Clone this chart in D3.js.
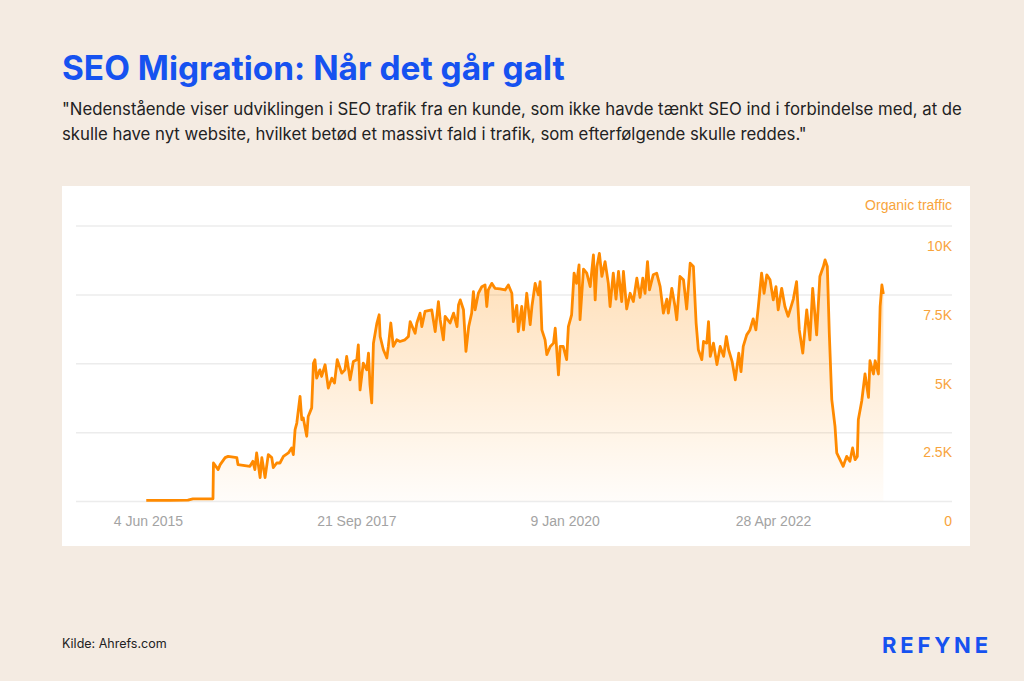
<!DOCTYPE html>
<html><head><meta charset="utf-8">
<script src="https://cdn.jsdelivr.net/npm/d3@7"></script>
<style>
html,body{margin:0;padding:0;background:#f4ebe2;}
svg{display:block;}
</style></head>
<body>
<svg id="c" width="1024" height="681"></svg>
<script>
const titleText = "SEO Migration: Når det går galt";
const subtitleLines = [
  "\"Nedenstående viser udviklingen i SEO trafik fra en kunde, som ikke havde tænkt SEO ind i forbindelse med, at de",
  "skulle have nyt website, hvilket betød et massivt fald i trafik, som efterfølgende skulle reddes.\""
];
const sourceText = "Kilde: Ahrefs.com";
const brandText = "REFYNE";
const seriesName = "Organic traffic";
const xTickDates = ["2015-06-04", "2017-09-21", "2020-01-09", "2022-04-28"];
const xTickLabels = ["4 Jun 2015", "21 Sep 2017", "9 Jan 2020", "28 Apr 2022"];
const yTickValues = [0, 2500, 5000, 7500, 10000];
const yTickLabels = ["0", "2.5K", "5K", "7.5K", "10K"];

const traffic = [
["2015-05-28",20],["2015-07-15",20],["2015-09-01",25],["2015-11-12",30],["2015-12-02",80],["2016-02-21",80],
["2016-02-23",1380],["2016-03-13",1140],["2016-03-21",1320],["2016-04-10",1575],["2016-04-22",1620],["2016-05-27",1575],["2016-06-01",1320],["2016-07-19",1260],["2016-07-31",1440],["2016-08-08",1140],["2016-08-15",1745],["2016-08-29",850],["2016-09-05",1575],["2016-09-18",850],["2016-10-01",1685],["2016-10-15",1575],["2016-10-21",1215],["2016-11-04",1380],["2016-11-17",1380],["2016-12-01",1620],["2016-12-21",1745],
["2017-01-03",1925],["2017-01-10",1685],["2017-01-17",2590],["2017-01-24",2830],["2017-02-06",3800],["2017-02-13",2950],["2017-02-19",3015],["2017-03-05",2350],["2017-03-11",3070],["2017-03-25",3380],["2017-04-01",5000],["2017-04-07",5130],["2017-04-14",4460],["2017-04-27",4760],["2017-05-04",4520],["2017-05-18",4945],["2017-05-31",4100],["2017-06-14",4460],["2017-06-25",4280],["2017-07-06",5130],["2017-07-24",4640],["2017-08-06",4760],["2017-08-13",5245],["2017-08-27",4400],["2017-09-09",5065],["2017-09-23",5130],["2017-09-29",5670],["2017-10-06",4030],["2017-10-19",5000],["2017-11-02",4760],["2017-11-09",5370],["2017-11-15",4220],["2017-11-22",3560],["2017-11-29",5730],["2017-12-13",6460],["2017-12-22",6760],["2017-12-26",5970],
["2018-01-08",5490],["2018-01-22",5190],["2018-01-28",5610],["2018-02-07",6460],["2018-02-17",5610],["2018-03-03",5850],["2018-03-16",5790],["2018-04-05",5850],["2018-04-19",5970],["2018-04-26",6510],["2018-05-16",6090],["2018-05-23",6460],["2018-06-05",6820],["2018-06-12",6330],["2018-06-25",6880],["2018-07-22",6940],["2018-08-05",6150],["2018-08-18",7240],["2018-08-25",6580],["2018-09-07",5850],["2018-09-14",6700],["2018-10-04",6460],["2018-10-18",6820],["2018-11-01",6330],["2018-11-07",7120],["2018-11-14",7300],["2018-11-27",6940],["2018-12-07",5430],["2018-12-18",6330],["2018-12-30",6820],
["2019-01-06",7600],["2019-01-13",6940],["2019-01-26",7540],["2019-02-09",7780],["2019-02-22",7840],["2019-03-01",7060],["2019-03-07",7660],["2019-03-21",7900],["2019-04-03",7720],["2019-04-23",7700],["2019-05-14",7660],["2019-05-27",7840],["2019-06-10",7540],["2019-06-16",6510],["2019-06-30",7100],["2019-07-06",6150],["2019-07-20",7060],["2019-07-27",6210],["2019-08-09",7540],["2019-08-23",6400],["2019-08-30",7060],["2019-09-12",7900],["2019-09-25",7480],["2019-10-02",7960],["2019-10-09",6210],["2019-10-22",5850],["2019-10-29",5310],["2019-11-12",5610],["2019-11-25",5730],["2019-12-02",6270],["2019-12-15",4580],["2019-12-22",5610],
["2020-01-03",5610],["2020-01-17",5130],["2020-01-24",6330],["2020-02-06",6760],["2020-02-16",8270],["2020-02-26",7900],["2020-03-07",8570],["2020-03-11",6580],["2020-03-25",8420],["2020-04-07",8270],["2020-04-21",7780],["2020-05-04",8930],["2020-05-11",7300],["2020-05-18",8510],["2020-05-28",8990],["2020-06-07",8150],["2020-06-20",8690],["2020-07-03",7900],["2020-07-10",7060],["2020-07-23",8270],["2020-08-03",7330],["2020-08-13",8330],["2020-08-26",7240],["2020-09-02",8330],["2020-09-15",6970],["2020-09-29",7540],["2020-10-12",7240],["2020-10-26",8090],["2020-11-08",7390],["2020-11-19",8090],["2020-11-28",7540],["2020-12-08",8690],["2020-12-16",7660],["2020-12-31",8210],
["2021-01-14",8270],["2021-01-28",7780],["2021-02-10",6820],["2021-02-24",7330],["2021-03-02",6820],["2021-03-16",7720],["2021-03-29",7060],["2021-04-05",6580],["2021-04-18",8150],["2021-05-02",8030],["2021-05-15",6970],["2021-05-29",8630],["2021-06-11",8510],["2021-06-22",6460],["2021-07-01",5490],["2021-07-15",5130],["2021-07-22",5790],["2021-08-04",5730],["2021-08-11",6510],["2021-08-18",5250],["2021-08-31",5730],["2021-09-14",4950],["2021-09-27",5610],["2021-10-11",5250],["2021-10-22",5970],["2021-10-31",5490],["2021-11-14",5070],["2021-11-27",4400],["2021-12-11",5370],["2021-12-20",4700],["2021-12-29",5610],
["2022-01-12",6030],["2022-01-25",6210],["2022-02-07",6610],["2022-02-18",6210],["2022-02-28",7060],["2022-03-13",8270],["2022-03-23",7540],["2022-04-03",8210],["2022-04-16",8030],["2022-04-29",7300],["2022-05-10",7780],["2022-05-19",6940],["2022-06-02",7720],["2022-06-15",7060],["2022-06-28",6700],["2022-07-19",7330],["2022-08-01",7960],["2022-08-12",6210],["2022-08-26",5370],["2022-09-11",6940],["2022-09-24",5850],["2022-10-05",7720],["2022-10-21",6030],["2022-11-03",8150],["2022-11-17",8510],["2022-11-24",8750],["2022-12-03",8510],["2022-12-11",6090],["2022-12-21",3680],
["2023-01-03",2710],["2023-01-10",1745],["2023-01-23",1500],["2023-02-05",1260],["2023-02-19",1620],["2023-03-04",1440],["2023-03-15",1925],["2023-03-25",1500],["2023-04-03",1620],["2023-04-07",2950],["2023-04-21",3640],["2023-05-04",4610],["2023-05-18",3760],["2023-05-24",5090],["2023-06-07",4610],["2023-06-14",5090],["2023-06-27",4610],["2023-07-04",7060],["2023-07-11",7840],["2023-07-17",7510]
];

const parse = d3.utcParse("%Y-%m-%d");
const data = traffic.map(d => ({date: parse(d[0]), value: d[1]}));

const svg = d3.select("#c");

function fitWidth(sel, target) {
  const node = sel.node();
  const fs = parseFloat(sel.attr("font-size"));
  const w = node.getComputedTextLength();
  if (w > 0) sel.attr("font-size", (fs * target / w).toFixed(2));
}

// Title
const title = svg.append("text").attr("x", 62).attr("y", 80)
  .attr("font-family", "Inter, 'Noto Sans', sans-serif").attr("font-weight", 700)
  .attr("font-size", 31).attr("fill", "#1652f0").text(titleText);
fitWidth(title, 503);

// Subtitle
const sub1 = svg.append("text").attr("x", 62).attr("y", 115)
  .attr("font-family", "Inter, 'Noto Sans', sans-serif").attr("font-size", 16)
  .attr("fill", "#222").text(subtitleLines[0]);
fitWidth(sub1, 900);
svg.append("text").attr("x", 62).attr("y", 140)
  .attr("font-family", "Inter, 'Noto Sans', sans-serif").attr("font-size", sub1.attr("font-size"))
  .attr("fill", "#222").text(subtitleLines[1]);

// Panel
svg.append("rect").attr("x", 62).attr("y", 186).attr("width", 908).attr("height", 360).attr("fill", "#ffffff");

// Scales
const x = d3.scaleUtc().domain([parse(xTickDates[0]), parse(xTickDates[3])]).range([148, 773]);
const y = d3.scaleLinear().domain([0, 10000]).range([501, 225.5]);

// Grid + y labels
const yAxis = d3.axisRight(y).tickValues(yTickValues).tickSize(-876)
  .tickFormat((d, i) => yTickLabels[i]);
const gy = svg.append("g").attr("transform", "translate(952,0)").call(yAxis);
gy.select(".domain").remove();
gy.selectAll(".tick line").attr("stroke", "#ececec").attr("stroke-width", 1.5);
gy.selectAll(".tick text").attr("x", 0).attr("y", 20).attr("dy", "0.34em").attr("text-anchor", "end")
  .attr("fill", "#f8a43c").attr("font-size", 14).attr("font-family", "'Liberation Sans', Arial, sans-serif");

// X labels
const xAxis = d3.axisBottom(x).tickValues(xTickDates.map(parse)).tickSize(0)
  .tickFormat((d, i) => xTickLabels[i]);
const gx = svg.append("g").attr("transform", "translate(0,513)").call(xAxis);
gx.select(".domain").remove();
gx.selectAll(".tick text").attr("fill", "#a3a3a3").attr("font-size", 14)
  .attr("font-family", "'Liberation Sans', Arial, sans-serif");

// Series label
svg.append("text").attr("x", 952).attr("y", 210).attr("text-anchor", "end")
  .attr("fill", "#f8a43c").attr("font-size", 14).attr("font-family", "'Liberation Sans', Arial, sans-serif")
  .text(seriesName);

// Gradient area
const defs = svg.append("defs");
const grad = defs.append("linearGradient").attr("id", "ag").attr("gradientUnits", "userSpaceOnUse")
  .attr("x1", 0).attr("x2", 0).attr("y1", y(10000)).attr("y2", y(0));
grad.append("stop").attr("offset", "0%").attr("stop-color", "#ff8c00").attr("stop-opacity", 0.32);
grad.append("stop").attr("offset", "100%").attr("stop-color", "#ff8c00").attr("stop-opacity", 0.02);

svg.append("path").datum(data)
  .attr("d", d3.area().x(d => x(d.date)).y0(y(0)).y1(d => y(d.value)))
  .attr("fill", "url(#ag)");
svg.append("path").datum(data)
  .attr("d", d3.line().x(d => x(d.date)).y(d => y(d.value)))
  .attr("fill", "none").attr("stroke", "#ff8a00").attr("stroke-width", 2.8)
  .attr("stroke-linejoin", "round");

// Footer
svg.append("text").attr("x", 62).attr("y", 648)
  .attr("font-family", "Inter, 'Noto Sans', sans-serif").attr("font-size", 12.5)
  .attr("fill", "#222").text(sourceText);
svg.append("text").attr("x", 882).attr("y", 653)
  .attr("font-family", "Inter, 'Noto Sans', sans-serif").attr("font-weight", 700)
  .attr("font-size", 22).attr("textLength", 106).attr("lengthAdjust", "spacing")
  .attr("fill", "#1652f0").text(brandText);
</script>
</body></html>
